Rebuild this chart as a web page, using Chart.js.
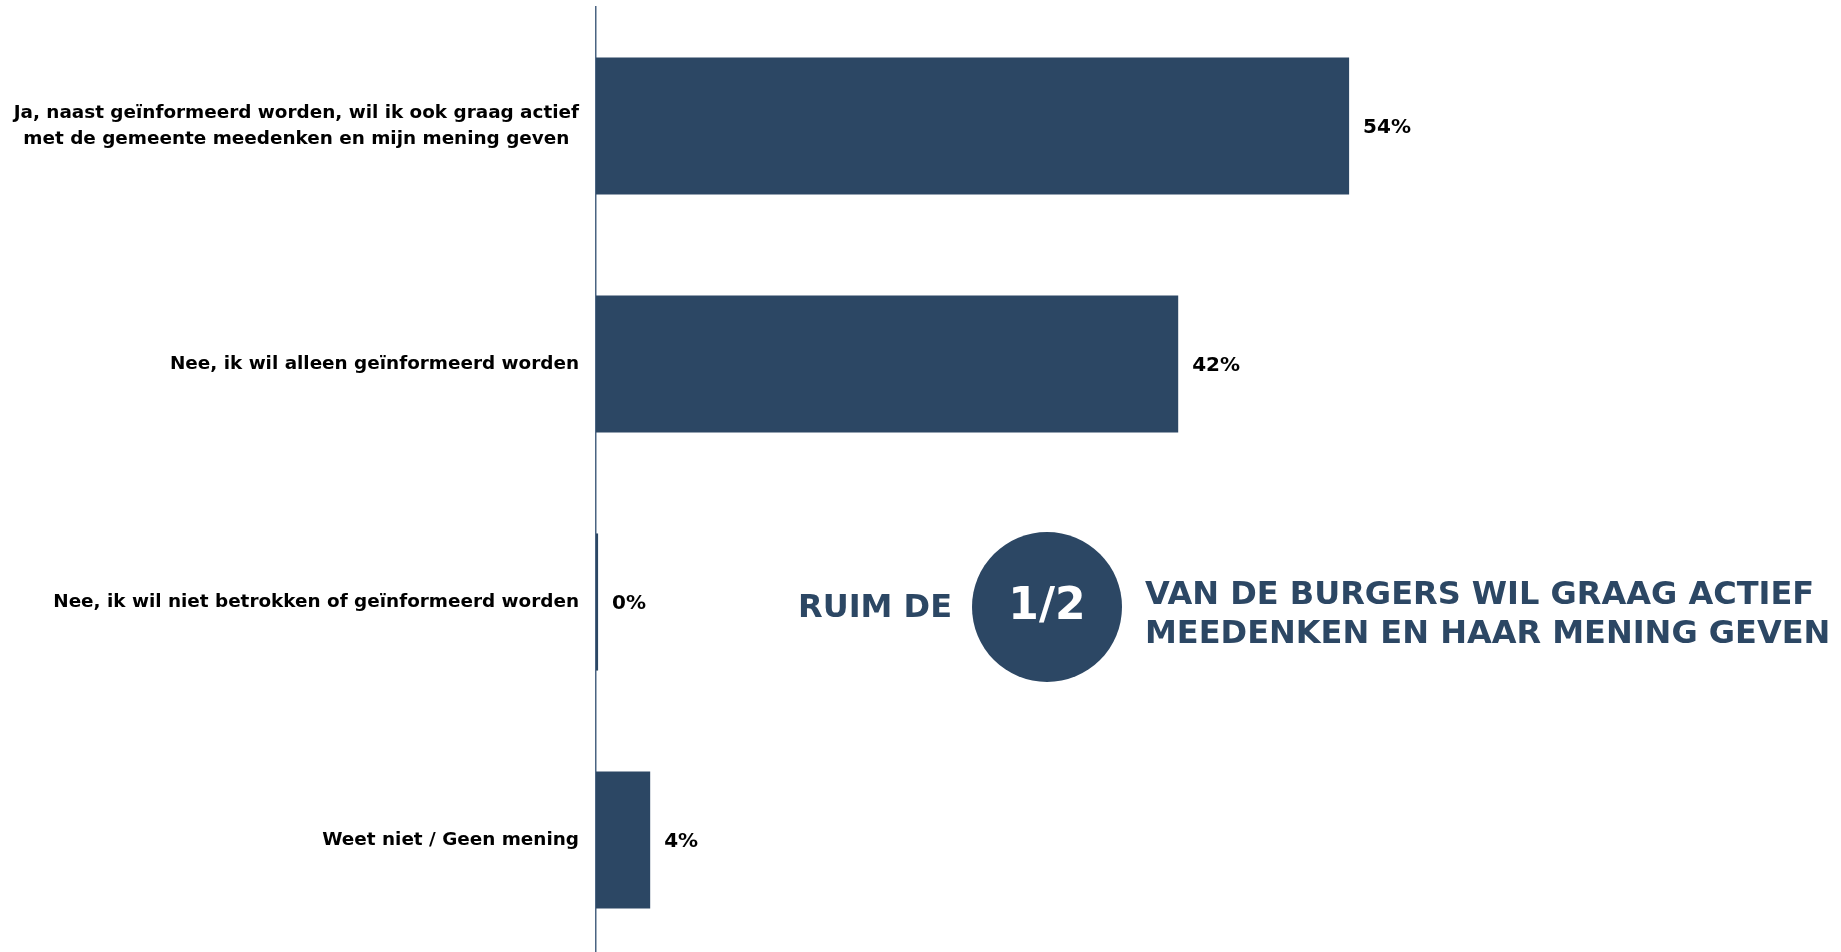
<!DOCTYPE html>
<html>
<head>
<meta charset="utf-8">
<script src="https://cdn.jsdelivr.net/npm/chart.js@4"></script>
<style>
  html, body { margin: 0; padding: 0; background: #fff; overflow: hidden; }
</style>
</head>
<body>
<canvas id="barChart" width="1841" height="960"></canvas>
<script>
// categorieën (antwoorden) en percentages
var categories = [
    ['Ja, naast geïnformeerd worden, wil ik ook graag actief', 'met de gemeente meedenken en mijn mening geven'],
    'Nee, ik wil alleen geïnformeerd worden',
    'Nee, ik wil niet betrokken of geïnformeerd worden',
    'Weet niet / Geen mening'
];
var values = [54.2, 41.9, 0.15, 3.9];
var valueLabels = ['54%', '42%', '0%', '4%'];

// tekst naast de grafiek
var calloutLeft = 'RUIM DE';
var calloutCircle = '1/2';
var calloutRight = ['VAN DE BURGERS WIL GRAAG ACTIEF', 'MEEDENKEN EN HAAR MENING GEVEN'];

var navy = '#2c4764';
var labelFont = 'bold 18.4px "DejaVu Sans", Tahoma, sans-serif';

// categorie-labels: blok rechts uitgelijnd, regels onderling gecentreerd
var categoryLabelPlugin = {
    id: 'categoryLabels',
    afterDraw: function (chart) {
        var ctx = chart.ctx;
        var yScale = chart.scales.y;
        var right = yScale.right - 17;
        var lineH = 26;
        ctx.save();
        ctx.font = labelFont;
        ctx.fillStyle = '#000';
        ctx.textBaseline = 'middle';
        ctx.textAlign = 'center';
        categories.forEach(function (label, i) {
            var lines = Array.isArray(label) ? label : [label];
            var maxW = 0;
            lines.forEach(function (l) { maxW = Math.max(maxW, ctx.measureText(l).width); });
            var cx = right - maxW / 2;
            var y0 = yScale.getPixelForTick(i) - (lines.length - 1) * lineH / 2;
            lines.forEach(function (l, j) {
                ctx.fillText(l, cx, y0 + j * lineH);
            });
        });
        ctx.restore();
    }
};

var valueLabelPlugin = {
    id: 'valueLabels',
    afterDatasetsDraw: function (chart) {
        var ctx = chart.ctx;
        var meta = chart.getDatasetMeta(0);
        ctx.save();
        ctx.font = 'bold 20px "DejaVu Sans", Verdana, sans-serif';
        ctx.fillStyle = '#000';
        ctx.textBaseline = 'middle';
        ctx.textAlign = 'left';
        meta.data.forEach(function (bar, i) {
            ctx.fillText(valueLabels[i], bar.x + 14, bar.y + 2);
        });
        ctx.restore();
    }
};

var calloutPlugin = {
    id: 'callout',
    afterDraw: function (chart) {
        var ctx = chart.ctx;
        var cx = 1047, cy = 607, r = 75;
        ctx.save();
        ctx.fillStyle = navy;
        ctx.beginPath();
        ctx.arc(cx, cy, r, 0, Math.PI * 2);
        ctx.fill();

        ctx.font = 'bold 32px "DejaVu Sans", Verdana, sans-serif';
        ctx.textBaseline = 'middle';
        ctx.textAlign = 'right';
        ctx.fillText(calloutLeft, 952, cy + 2);

        ctx.textAlign = 'left';
        ctx.fillText(calloutRight[0], 1145, 596);
        ctx.fillText(calloutRight[1], 1145, 635);

        ctx.fillStyle = '#fff';
        ctx.textAlign = 'center';
        ctx.font = 'bold 44px "DejaVu Sans", Verdana, sans-serif';
        ctx.fillText(calloutCircle, cx, cy + 1);
        ctx.restore();
    }
};

document.addEventListener('DOMContentLoaded', function () {
    var ctx = document.getElementById('barChart').getContext('2d');
    new Chart(ctx, {
        type: 'bar',
        data: {
            labels: categories,
            datasets: [{
                data: values,
                backgroundColor: navy,
                borderWidth: 0,
                barPercentage: 0.576,
                categoryPercentage: 1
            }]
        },
        options: {
            indexAxis: 'y',
            responsive: false,
            animation: false,
            layout: { padding: { top: 7, bottom: 1, left: 0, right: 0 } },
            plugins: {
                legend: { display: false },
                tooltip: { enabled: false }
            },
            scales: {
                x: {
                    min: 0,
                    max: 89.6,
                    display: false,
                    grid: { display: false }
                },
                y: {
                    grid: { display: false, drawTicks: false },
                    border: { display: true, color: '#4a6482', width: 1.5 },
                    afterFit: function (scale) {
                        scale.width = 596;
                        scale.paddingTop = 0;
                        scale.paddingBottom = 0;
                    },
                    ticks: {
                        color: 'rgba(0,0,0,0)', // getekend door categoryLabelPlugin
                        padding: 17,
                        font: { family: '"DejaVu Sans", Tahoma, sans-serif', weight: 'bold', size: 18.4, lineHeight: 1.42 }
                    }
                }
            }
        },
        plugins: [valueLabelPlugin, categoryLabelPlugin, calloutPlugin]
    });
});
</script>
</body>
</html>
